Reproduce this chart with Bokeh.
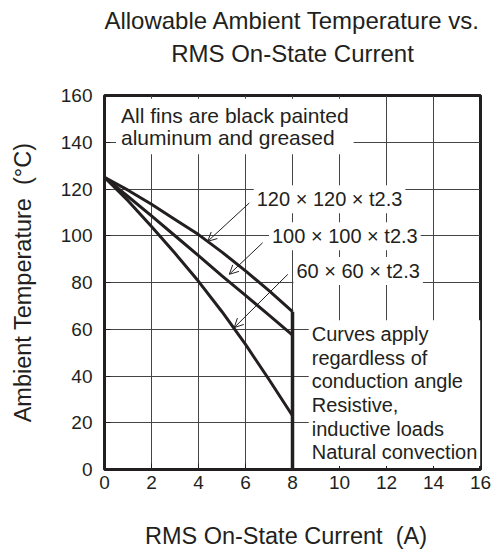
from bokeh.plotting import figure
from bokeh.models import Label, Arrow, OpenHead, Title, Range1d, FixedTicker
from bokeh.embed import file_html
from bokeh.resources import INLINE

# ---- data ----
current = [0, 1, 2, 3, 4, 5, 6, 7, 8]
temp_120 = [125, 119.5, 113.5, 107, 100.5, 93, 85, 76.5, 67.5]
temp_100 = [125, 116.8, 108.5, 100, 91.5, 82.8, 74.5, 66, 57.5]
temp_60 = [125, 115, 104, 92.5, 80.5, 67.5, 53.5, 38.5, 23]
max_current = 8
x_ticks = [0, 2, 4, 6, 8, 10, 12, 14, 16]
y_ticks = [0, 20, 40, 60, 80, 100, 120, 140, 160]
series_labels = ["120 \u00d7 120 \u00d7 t2.3", "100 \u00d7 100 \u00d7 t2.3", "60 \u00d7 60 \u00d7 t2.3"]
title_lines = ["Allowable Ambient Temperature vs.", "RMS On-State Current"]

FONT = "Liberation Sans"
INK = "#231f20"

p = figure(width=496, height=553, x_range=Range1d(0, 16), y_range=Range1d(0, 160),
           output_backend="svg", toolbar_location=None, title=None,
           min_border_left=104, min_border_right=16, min_border_top=94, min_border_bottom=84)

p.background_fill_color = "white"
p.border_fill_color = "white"
p.outline_line_color = INK
p.outline_line_width = 3

for ax in (p.xaxis[0], p.yaxis[0]):
    ax.axis_line_color = None
    ax.major_tick_in = 6
    ax.major_tick_out = 0
    ax.minor_tick_line_color = None
    ax.major_tick_line_color = INK
    ax.major_label_text_font = FONT
    ax.major_label_text_font_size = "19px"
    ax.major_label_text_line_height = 1.0
    ax.major_label_text_color = INK
    ax.axis_label_text_font = FONT
    ax.axis_label_text_font_size = "23.5px"
    ax.axis_label_text_line_height = 1.0
    ax.axis_label_text_font_style = "normal"
    ax.axis_label_text_color = INK

p.xaxis.ticker = FixedTicker(ticks=x_ticks)
p.yaxis.ticker = FixedTicker(ticks=y_ticks)
p.xaxis.major_label_standoff = 6
p.yaxis.major_label_standoff = 12
p.xaxis.axis_label = "RMS On-State Current\u00a0\u00a0(A)\u00a0\u00a0"
p.yaxis.axis_label = "Ambient Temperature\u00a0\u00a0(\u00b0C)"
p.xaxis.axis_label_standoff = 31
p.yaxis.axis_label_standoff = 22

p.grid.grid_line_color = "#444444"
p.grid.grid_line_width = 1

# curves
for ys in (temp_120, temp_100, temp_60):
    p.line(current, ys, line_width=3, line_color=INK)
p.line([max_current, max_current], [0, temp_120[-1]], line_width=3.5, line_color=INK)

# leader arrows
leaders = [((6.16, 114.0), (4.39, 97.6)),
           ((6.73, 97.0), (5.31, 83.5)),
           ((7.80, 83.5), (5.52, 60.7))]
for (xs, ys_), (xe, ye) in leaders:
    p.add_layout(Arrow(x_start=xs, y_start=ys_, x_end=xe, y_end=ye, line_width=1, line_color=INK,
                       end=OpenHead(size=9, line_width=1, line_color=INK)))

label_pos = [(6.35, 115.6), (7.0, 99.8), (8.04, 84.9)]
for (lx, ly), txt in zip(label_pos, series_labels):
    p.add_layout(Label(x=lx, y=ly, text=txt, text_align="left", text_baseline="middle",
                       text_font=FONT, text_font_size="20px", text_color=INK,
                       background_fill_color="white", padding=3))

p.add_layout(Label(x=0.49, y=158.6, text="All fins are black painted\naluminum and greased",
                   text_align="left", text_baseline="top", text_font=FONT, text_font_size="21px",
                   text_line_height=0.98, text_color=INK, background_fill_color="white", padding=5))

p.add_layout(Label(x=8.69, y=63.8,
                   text="Curves apply\nregardless of\nconduction angle\nResistive,\ninductive loads\nNatural convection",
                   text_align="left", text_baseline="top", text_font=FONT, text_font_size="20px",
                   text_line_height=1.07, text_color=INK, background_fill_color="white", padding=3))

# title: spacer panel next to the frame, then line 2, then line 1 (outermost)
p.add_layout(Title(text="\u00a0", text_font_size="1px", standoff=26), "above")
p.add_layout(Title(text=title_lines[1], align="center", text_font=FONT,
                   text_font_size="24px", text_font_style="normal", text_color=INK,
                   text_line_height=1.0, standoff=0), "above")
p.add_layout(Title(text=title_lines[0], align="center", text_font=FONT,
                   text_font_size="24px", text_font_style="normal", text_color=INK,
                   text_line_height=1.0, standoff=8), "above")

open("out.html", "w").write(file_html(p, INLINE))
